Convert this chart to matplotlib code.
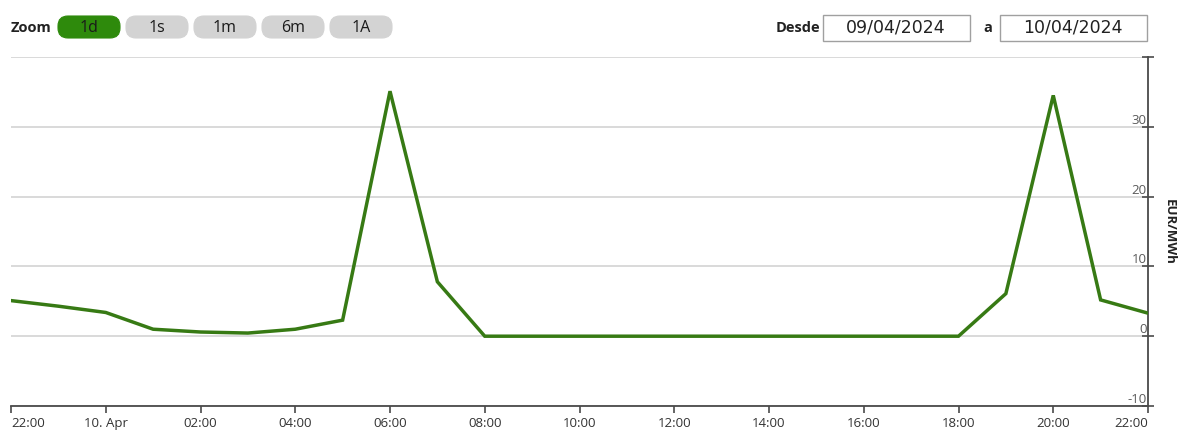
import matplotlib
matplotlib.use("Agg")
import matplotlib.pyplot as plt
from matplotlib.patches import FancyBboxPatch, Rectangle

# ---- data ----
hours = list(range(25))  # hourly steps from 09/04 22:00 to 10/04 22:00
prices = [5.1, 4.3, 3.4, 1.0, 0.6, 0.45, 1.0, 2.3, 35.1, 7.8,
          0, 0, 0, 0, 0, 0, 0, 0, 0, 0, 0,
          6.1, 34.5, 5.2, 3.3]
xtick_pos = list(range(0, 25, 2))
xtick_labels = ["22:00", "10. Apr", "02:00", "04:00", "06:00", "08:00", "10:00",
                "12:00", "14:00", "16:00", "18:00", "20:00", "22:00"]
ytick_pos = [-10, 0, 10, 20, 30, 40]
ytick_labels = ["-10", "0", "10", "20", "30", ""]
zoom_buttons = ["1d", "1s", "1m", "6m", "1A"]
date_from = "09/04/2024"
date_to = "10/04/2024"
y_unit = "EUR/MWh"

plt.rcParams['font.family'] = ['Open Sans', 'DejaVu Sans']

W, H = 1188, 430
fig = plt.figure(figsize=(W / 100, H / 100), dpi=100)
fig.patch.set_facecolor("white")

ax = fig.add_axes([11 / W, 1 - 406 / H, (1148 - 11) / W, (406 - 57) / H])
ax.set_facecolor("white")
ax.plot(hours, prices, color="#377a14", lw=2.5, solid_joinstyle="miter", zorder=3)

ax.set_xlim(0, 24)
ax.set_ylim(-10, 40)
ax.set_xticks(xtick_pos)
ax.set_xticklabels(xtick_labels)
ax.set_yticks(ytick_pos)
ax.set_yticklabels(ytick_labels)

for s in ["left", "top"]:
    ax.spines[s].set_visible(False)
for s in ["right", "bottom"]:
    ax.spines[s].set_color("#4a4a4a")
    ax.spines[s].set_linewidth(1.3)

ax.yaxis.grid(True, color="#d9d9d9", lw=1.4)
ax.xaxis.grid(False)
ax.set_axisbelow(True)

ax.tick_params(axis="x", direction="out", length=5, width=1.2, color="#4a4a4a",
               labelsize=9.5, labelcolor="#333333", pad=3)
ax.yaxis.tick_right()
ax.tick_params(axis="y", direction="inout", length=8, width=1.2, color="#4a4a4a",
               labelsize=9.5, labelcolor="#5a5a5a", pad=-5)
for lab in ax.get_yticklabels():
    lab.set_horizontalalignment("right")
    lab.set_verticalalignment("bottom")
xl = ax.get_xticklabels()
xl[0].set_horizontalalignment("left")
xl[-1].set_horizontalalignment("right")

ax.text(1.019, 0.5, y_unit, transform=ax.transAxes, rotation=270,
        ha="center", va="center", fontsize=9.5, fontweight="bold", color="#222222")

# ---- top bar (overlay in pixel coordinates) ----
ov = fig.add_axes([0, 0, 1, 1], zorder=5)
ov.set_xlim(0, W)
ov.set_ylim(H, 0)
ov.axis("off")
ov.patch.set_alpha(0)

ov.text(11, 28, "Zoom", fontsize=10.5, fontweight="bold", color="#222222",
        ha="left", va="center")
bx = [58, 126, 194, 262, 330]
for i, (lbl, x0) in enumerate(zip(zoom_buttons, bx)):
    fc = "#2e8a0c" if i == 0 else "#d3d3d3"
    ov.add_patch(FancyBboxPatch((x0, 16), 62, 22,
                                boxstyle="round,pad=0,rounding_size=10",
                                fc=fc, ec=fc, lw=0.8))
    ov.text(x0 + 31, 27.5, lbl, fontsize=11.5, color="#1a1a1a",
            ha="center", va="center", fontweight="medium")

ov.text(820, 28, "Desde", fontsize=10.5, fontweight="bold", color="#222222",
        ha="right", va="center")
ov.text(988, 28, "a", fontsize=10.5, fontweight="bold", color="#222222",
        ha="center", va="center")
for x0, txt in [(823, date_from), (1000, date_to)]:
    ov.add_patch(Rectangle((x0, 15), 147, 26, fc="white", ec="#a0a0a0", lw=1))
    ov.text(x0 + 73, 28, txt, fontsize=12.5, color="#222222",
            ha="center", va="center", family="DejaVu Sans")

fig.savefig("out.png", dpi=100, facecolor="white")
